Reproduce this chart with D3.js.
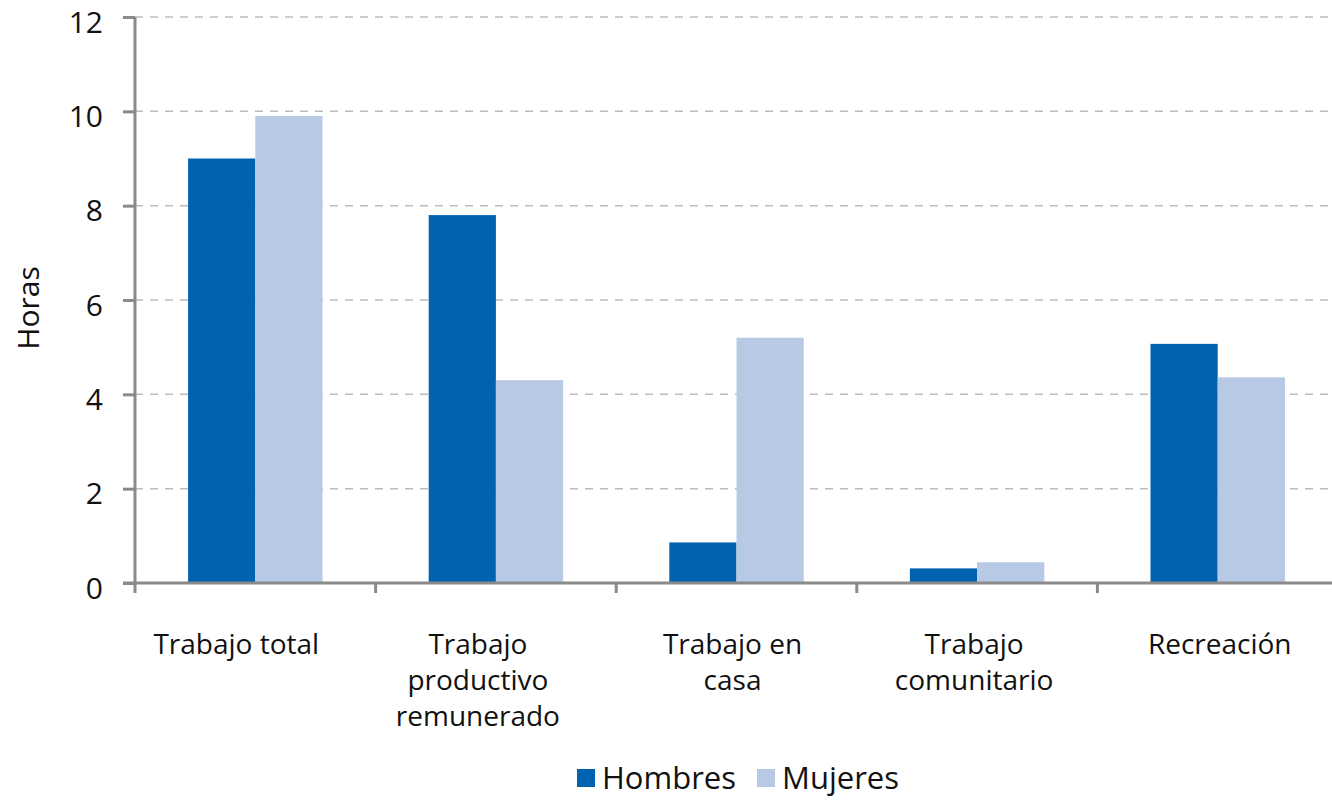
<!DOCTYPE html>
<html>
<head>
<meta charset="utf-8">
<script src="https://cdn.jsdelivr.net/npm/d3@7"></script>
<style>
  html, body { margin: 0; padding: 0; background: #fff; }
  svg { display: block; font-family: "Open Sans", "Noto Sans", sans-serif; }
</style>
</head>
<body>
<svg id="chart" width="1332" height="800"></svg>
<script>
// Horas promedio por día, por tipo de actividad y sexo
const categories = [
  ["Trabajo total"],
  ["Trabajo", "productivo", "remunerado"],
  ["Trabajo en", "casa"],
  ["Trabajo", "comunitario"],
  ["Recreación"]
];
const seriesNames = ["Hombres", "Mujeres"];
const hombres = [9.0, 7.8, 0.86, 0.31, 5.07];
const mujeres = [9.9, 4.3, 5.2, 0.44, 4.36];
const yTicks = [0, 2, 4, 6, 8, 10, 12];
const colors = ["#0063b0", "#b7c9e4"];

const svg = d3.select("#chart");
const margin = { left: 135, right: -6, top: 17, bottom: 217 };
const width = 1332 - margin.left - margin.right;
const height = 800 - margin.top - margin.bottom;

// horizontal nudge of each category label relative to its band centre
const labelNudge = [-19, -18, -4, -3, 2];

const g = svg.append("g").attr("transform", `translate(${margin.left},${margin.top})`);

const keys = categories.map(c => c.join(" "));
const x0 = d3.scaleBand().domain(keys).range([0, width]).padding(0);
const x1 = d3.scaleBand().domain(seriesNames).range([0, x0.bandwidth()])
  .paddingInner(0).paddingOuter(0.79);
const y = d3.scaleLinear().domain([0, 12]).range([height, 0]);

// dashed gridlines
g.append("g")
  .selectAll("line")
  .data(yTicks.filter(t => t > 0))
  .join("line")
  .attr("x1", 0).attr("x2", width)
  .attr("y1", d => y(d)).attr("y2", d => y(d))
  .attr("stroke", "#bdbdbd")
  .attr("stroke-width", 1.5)
  .attr("stroke-dasharray", "8,7");

// bars
const rows = keys.map((k, i) => ({ key: k, values: [hombres[i], mujeres[i]] }));
g.append("g")
  .selectAll("g")
  .data(rows)
  .join("g")
  .attr("transform", d => `translate(${x0(d.key)},0)`)
  .selectAll("rect")
  .data(d => d.values.map((v, j) => ({ s: seriesNames[j], v, j })))
  .join("rect")
  .attr("x", d => x1(d.s))
  .attr("width", x1.bandwidth())
  .attr("y", d => y(d.v))
  .attr("height", d => y(0) - y(d.v))
  .attr("fill", d => colors[d.j]);

// y axis
const yAxis = g.append("g")
  .call(d3.axisLeft(y).tickValues(yTicks).tickSize(12).tickPadding(20).tickFormat(d3.format("d")));
yAxis.select(".domain").attr("stroke", "#8a8a8a").attr("stroke-width", 3)
  .attr("d", `M0,${y(12)}V${y(0)}`);
yAxis.selectAll(".tick line").attr("stroke", "#8a8a8a").attr("stroke-width", 3);
yAxis.selectAll(".tick text").attr("font-size", 30).attr("fill", "#111")
  .attr("dy", "0.5em")
  .attr("font-family", "'Open Sans', sans-serif");

// x axis
const xAxisG = g.append("g").attr("transform", `translate(0,${height})`);
xAxisG.append("line")
  .attr("x1", -12).attr("x2", width)
  .attr("stroke", "#8a8a8a").attr("stroke-width", 3);
xAxisG.selectAll("line.tk")
  .data(keys.map(k => x0(k)).concat([width]))
  .join("line")
  .attr("class", "tk")
  .attr("x1", d => d).attr("x2", d => d)
  .attr("y1", 0).attr("y2", 10)
  .attr("stroke", "#8a8a8a").attr("stroke-width", 3);

// category labels
const lbl = xAxisG.selectAll("text.cat")
  .data(categories)
  .join("text")
  .attr("class", "cat")
  .attr("text-anchor", "middle")
  .attr("font-size", 28)
  .attr("fill", "#111")
  .attr("transform", (d, i) =>
    `translate(${x0(keys[i]) + x0.bandwidth() / 2 + labelNudge[i]},71)`);
lbl.selectAll("tspan")
  .data(d => d)
  .join("tspan")
  .attr("x", 0)
  .attr("dy", (d, i) => i === 0 ? 0 : 36)
  .text(d => d);

// y axis title
svg.append("text")
  .attr("transform", "translate(39,308) rotate(-90)")
  .attr("text-anchor", "middle")
  .attr("font-size", 30)
  .attr("fill", "#111")
  .text("Horas");

// legend
const legend = svg.append("g").attr("transform", "translate(577,778)");
const items = [{ name: "Hombres", x: 0 }, { name: "Mujeres", x: 180 }];
items.forEach((it, i) => {
  legend.append("rect")
    .attr("x", it.x).attr("y", -9).attr("width", 18).attr("height", 18)
    .attr("fill", colors[i]);
  legend.append("text")
    .attr("x", it.x + 25).attr("y", 0)
    .attr("dy", "0.36em")
    .attr("font-size", 31)
    .attr("fill", "#111")
    .text(it.name);
});
</script>
</body>
</html>
